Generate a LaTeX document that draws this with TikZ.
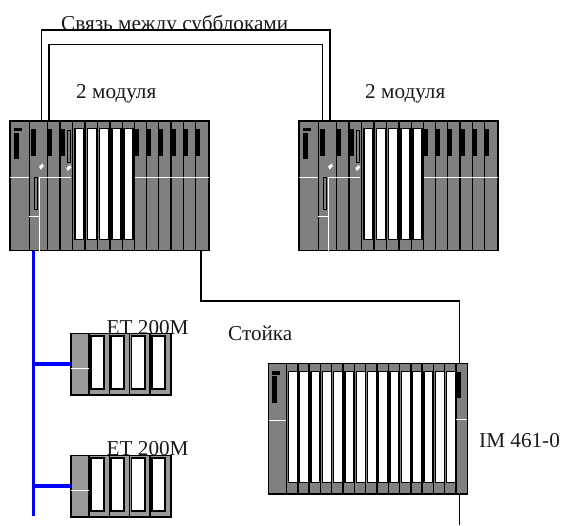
\documentclass[tikz,border=0pt]{standalone}
\usepackage{fontspec}
\setmainfont{Liberation Serif}
\definecolor{rackgrey}{gray}{0.5}
\definecolor{etgrey}{gray}{0.6}
\definecolor{busblue}{RGB}{0,0,255}
\tikzset{
  rackbody/.style={draw=black,fill=rackgrey,line width=1.2pt,inner sep=0pt,outer sep=0pt,anchor=north west},
  etbody/.style={draw=black,fill=etgrey,line width=1.3pt,inner sep=0pt,outer sep=0pt,anchor=north west},
  divider/.style={draw=black,line width=1.4pt},
  slotbox/.style={draw=black,fill=white,line width=1.3pt},
  etslot/.style={draw=black,fill=white,line width=1.8pt},
  blackmark/.style={fill=black,draw=none},
  hairwhite/.style={draw=white,line width=1pt},
  thinslot/.style={draw=black,fill=rackgrey,line width=0.9pt},
  wire/.style={draw=black,line width=1.3pt},
  bus/.style={draw=busblue,line width=3.6pt},
  textlabel/.style={font=\fontsize{21.2}{24}\selectfont,inner sep=0pt,anchor=base west,text=black!90}
}
\newcommand{\bigrack}[3]{% name, x, y
  \begin{scope}[shift={(#2,#3)}]
    \node[rackbody,minimum width=199pt,minimum height=129.5pt] (#1) at (0,0) {};
    \foreach \d in {19.5,37.5,50,62.5,75,87.5,100,112.5,124.5,136.5,148.5,161,173.5,185.7}
      \draw[divider] (\d,0) -- (\d,129.5);
    \foreach \s in {65.05,77.35,89.65,101.95,114.05}
      \draw[slotbox] (\s,7.35) rectangle +(8.9,111);
    % black marks
    \fill[blackmark] (4,7) rectangle (12,10);
    \fill[blackmark] (4,12) rectangle (8.7,38);
    \foreach \b in {21,37.5,50,124.5,136.5,148.5,161,173.5,185.7}
      \fill[blackmark] (\b,8.3) rectangle +(4.5,26.4);
    \draw[thinslot] (57.3,9) rectangle (60.7,41.7);
    \draw[thinslot] (24,56) rectangle (27.7,88.3);
    % white details
    \fill[white] (29,45.5) -- (32.5,42.5) -- (34,45) -- (30.5,48.5) -- cycle;
    \fill[white] (56.3,47) -- (59.8,44) -- (61.3,46.5) -- (57.8,50) -- cycle;
    \draw[hairwhite] (0,56) -- (18.5,56);
    \draw[hairwhite] (29.5,56) -- (61,56);
    \draw[hairwhite] (124.5,56) -- (199,56);
    \draw[hairwhite] (29.5,56) -- (29.5,129.5);
    \draw[hairwhite] (19,95.7) -- (29.5,95.7);
  \end{scope}
}
\newcommand{\etrack}[3]{% name, x, y
  \begin{scope}[shift={(#2,#3)}]
    \node[etbody,minimum width=100pt,minimum height=61.5pt] (#1) at (0,0) {};
    \foreach \d in {18,38.3,58.5,79}
      \draw[divider] (\d,0) -- (\d,61.5);
    \foreach \s in {19.8,39.8,60.4,80.8}
      \draw[etslot] (\s,2.3) rectangle +(13.4,53.1);
    \draw[hairwhite] (0,35.3) -- (17.5,35.3);
  \end{scope}
}
\begin{document}
\begin{tikzpicture}[x=1pt,y=-1pt]
\useasboundingbox (0,0) rectangle (562,525);
% texts
\begin{scope}
  \clip (0,0) rectangle (562,29.5);
  \node[textlabel] (tlink) at (61,30.5) {Связь между субблоками};
\end{scope}
\node[textlabel] (tmod1) at (76,98.5) {2 модуля};
\node[textlabel] (tmod2) at (365,98.5) {2 модуля};
\node[textlabel] (tet1) at (106.5,334) {ET 200M};
\node[textlabel] (tet2) at (106.5,455.5) {ET 200M};
\node[textlabel] (track) at (228,340) {Стойка};
\node[textlabel] (tim) at (479,447) {IM 461-0};
% racks
\bigrack{rackA}{10}{121}
\bigrack{rackB}{299}{121}
\etrack{etA}{71}{333.5}
\etrack{etB}{71}{455.5}
% third rack
\begin{scope}[shift={(268.7,363.7)}]
  \node[rackbody,minimum width=198.6pt,minimum height=130.3pt] (rackC) at (0,0) {};
  \foreach \i in {0,...,15}
    \draw[divider] ({17.8+\i*11.3},0) -- ({17.8+\i*11.3},130.3);
  \foreach \i in {0,...,14}
    \draw[slotbox] ({19.65+\i*11.3},7.65) rectangle +(9,111);
  \fill[blackmark] (3.5,7.5) rectangle (11.3,11);
  \fill[blackmark] (3.5,12.5) rectangle (8,39);
  \fill[blackmark] (188.5,8) rectangle (192.5,34.5);
  \draw[hairwhite] (0,56.5) -- (17,56.5);
  \draw[hairwhite] (187,56) -- (198.6,56);
\end{scope}
% connector coordinates
\coordinate (a1) at ([xshift=31.5pt]rackA.north west);
\coordinate (a2) at ([xshift=39pt]rackA.north west);
\coordinate (b1) at ([xshift=31pt]rackB.north west);
\coordinate (b2) at ([xshift=23.5pt]rackB.north west);
\coordinate (c1) at ([xshift=191pt]rackA.south west);
\coordinate (c2) at ([xshift=190.5pt]rackC.north west);
\coordinate (c3) at ([xshift=190.5pt]rackC.south west);
\coordinate (c4) at (c3 |- 0,525);
\coordinate (busTop) at ([xshift=23.5pt]rackA.south west);
\coordinate (busEnd) at (busTop |- 0,516);
% wires
\draw[wire] (a1) -- (a1 |- 0,30) -- (b1 |- 0,30) -- (b1);
\draw[wire] (a2) -- (a2 |- 0,44.5) -- (b2 |- 0,44.5) -- (b2);
\draw[wire] (c1) -- (c1 |- 0,301) -- (c2 |- 0,301) -- (c2);
\draw[wire] (c3) -- (c4);
% bus
\draw[bus] (busTop) -- (busEnd);
\draw[bus] (busTop |- 0,364) -- (etA.west |- 0,364);
\draw[bus] (busTop |- 0,486) -- (etB.west |- 0,486);
\end{tikzpicture}
\end{document}
